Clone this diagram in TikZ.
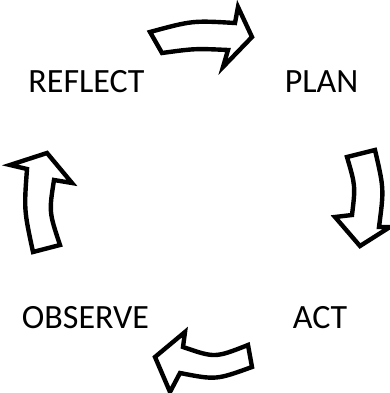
\documentclass[tikz,border=0pt]{standalone}
\usepackage{fontspec}
\setmainfont{Carlito}
\usetikzlibrary{positioning}

\begin{document}
\begin{tikzpicture}[
  x=1pt, y=-1pt,
  every node/.style={inner sep=0pt, anchor=base, font=\fontsize{34}{40}\selectfont},
  blockarrow/.style={draw=black, line width=4.4pt, fill=white, line join=miter}
]
\useasboundingbox (0,0) rectangle (390,393);

% stage labels
\node (reflect) at (86.5,93)  {REFLECT};
\node (plan)    at (321.5,93) {PLAN};
\node (observe) at (85.5,328) {OBSERVE};
\node (act)     at (320,328)  {ACT};

% reflect -> plan
\draw[blockarrow] (150,32) .. controls (192.5,20.5) .. (235,23) -- (238,7) -- (252,37)
  -- (223,67) -- (228,50) .. controls (195,48.5) .. (162,53) -- cycle;

% plan -> act
\draw[blockarrow] (347,157) -- (375,150) .. controls (384,189) .. (379,227) -- (390,227)
  -- (360,246) -- (335,217) -- (352,215) .. controls (355.5,186) .. cycle;

% act -> observe
\draw[blockarrow] (155,357) -- (185,332) -- (183,347) .. controls (215,358) .. (248,345)
  -- (252,367) .. controls (216,380) .. (180,373) -- (170,392) -- cycle;

% observe -> reflect
\draw[blockarrow] (47,153) -- (10,165) -- (27,169) .. controls (24,210) .. (33,252)
  -- (60,245) .. controls (49,212) .. (54,180) -- (72,183) -- cycle;
\end{tikzpicture}
\end{document}
